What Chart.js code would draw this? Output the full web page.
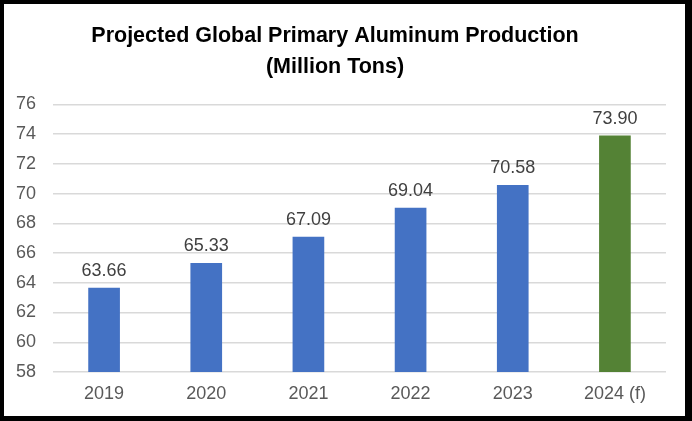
<!DOCTYPE html>
<html>
<head>
<meta charset="utf-8">
<script src="https://cdn.jsdelivr.net/npm/chart.js@4"></script>
<style>
  html, body { margin: 0; padding: 0; background: #fff; }
  #wrap {
    width: 692px; height: 421px; box-sizing: border-box;
    border-style: solid; border-color: #000;
    border-width: 4px 7px 5px 4px;
    background: #fff;
  }
  canvas { display: block; }
</style>
</head>
<body>
<div id="wrap"><canvas id="chart" width="681" height="412"></canvas></div>
<script>
const years = ['2019', '2020', '2021', '2022', '2023', '2024 (f)'];
const production = [63.66, 65.33, 67.09, 69.04, 70.58, 73.90];
const barColors = ['#4472C4', '#4472C4', '#4472C4', '#4472C4', '#4472C4', '#548235'];
const titleLines = ['Projected Global Primary Aluminum Production', '(Million Tons)'];

// value labels above bars
const valueLabels = {
  id: 'valueLabels',
  afterDatasetsDraw(chart) {
    const ctx = chart.ctx;
    const meta = chart.getDatasetMeta(0);
    ctx.save();
    ctx.font = '18px "Liberation Sans", Arial, sans-serif';
    ctx.fillStyle = '#404040';
    ctx.textAlign = 'center';
    ctx.textBaseline = 'alphabetic';
    meta.data.forEach((bar, i) => {
      ctx.fillText(production[i].toFixed(2), bar.x, bar.y - 12);
    });
    ctx.restore();
  }
};

new Chart(document.getElementById('chart'), {
  type: 'bar',
  data: {
    labels: years,
    datasets: [{
      data: production,
      backgroundColor: barColors,
      categoryPercentage: 1,
      barPercentage: 0.31
    }]
  },
  options: {
    responsive: false,
    animation: false,
    layout: { padding: { left: 0, right: 19, top: 0, bottom: 0 } },
    plugins: {
      legend: { display: false },
      tooltip: { enabled: false },
      title: {
        display: true,
        text: titleLines,
        color: '#000',
        font: { family: '"Liberation Sans", Arial', size: 21.5, weight: 'bold', lineHeight: 1.45 },
        padding: { top: 16, bottom: 22 }
      }
    },
    scales: {
      x: {
        grid: { display: false, drawTicks: false },
        border: { display: false },
        ticks: { color: '#595959', font: { family: '"Liberation Sans", Arial', size: 18 }, padding: 11 },
        afterFit(scale) { scale.height = 44; }
      },
      y: {
        min: 58,
        max: 76,
        ticks: { stepSize: 2, color: '#595959', font: { family: '"Liberation Sans", Arial', size: 18 }, padding: 17 },
        grid: { color: '#D9D9D9', lineWidth: 1.5, drawTicks: false },
        border: { display: false },
        afterFit(scale) { scale.width = 49; }
      }
    }
  },
  plugins: [valueLabels]
});
</script>
</body>
</html>
